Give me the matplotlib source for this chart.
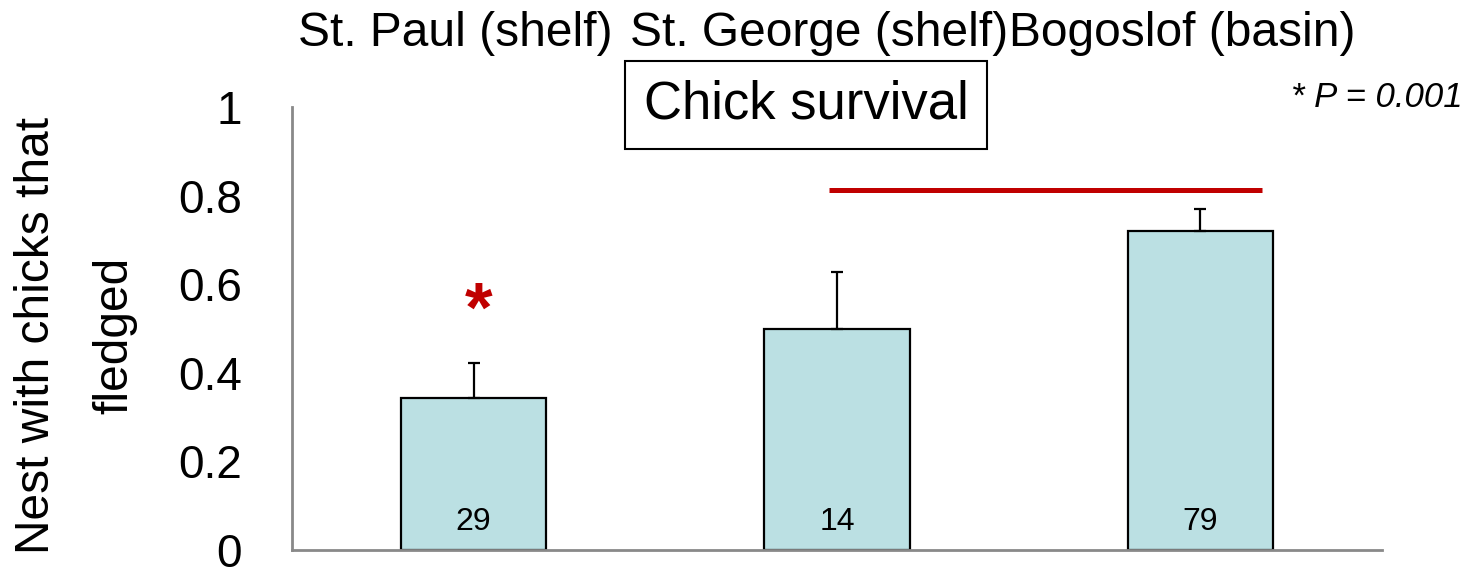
import numpy as np
import matplotlib
matplotlib.use('Agg')
import matplotlib.pyplot as plt
from matplotlib.transforms import blended_transform_factory

plt.rcParams['font.family'] = ['Liberation Sans', 'DejaVu Sans']

# Data
sites = ['St. Paul (shelf)', 'St. George (shelf)', 'Bogoslof (basin)']
fledged = [0.343, 0.499, 0.720]
err_upper = [0.079, 0.129, 0.050]
sample_n = ['29', '14', '79']
y_ticks = [0, 0.2, 0.4, 0.6, 0.8, 1]
y_tick_labels = ['0', '0.2', '0.4', '0.6', '0.8', '1']
sig_line_x = [0.977, 2.169]
sig_line_y = 0.813

bar_color = '#bbe0e3'
red = '#c00000'
spine_grey = '#898989'

fig = plt.figure(figsize=(14.79, 5.68), dpi=100)
ax = fig.add_axes([0.1974, 0.0317, 0.7370, 0.7799])

x = np.arange(len(sites))
ax.bar(x, fledged, width=0.4, color=bar_color, edgecolor='black', linewidth=1.6, zorder=2)
ax.errorbar(x, fledged, yerr=[np.zeros(len(x)), err_upper], fmt='none',
            ecolor='black', elinewidth=1.6, capsize=4.5, capthick=1.6, zorder=3)

for xi, n in zip(x, sample_n):
    ax.text(xi, 0.063, n, ha='center', va='center', fontsize=23)

ax.set_xlim(-0.5, 2.5)
ax.set_ylim(0, 1)
ax.set_xticks([])
ax.set_yticks(y_ticks)
ax.set_yticklabels(y_tick_labels, fontsize=33)
ax.tick_params(axis='y', length=0, pad=36)

for side in ['top', 'right']:
    ax.spines[side].set_visible(False)
for side in ['left', 'bottom']:
    ax.spines[side].set_color(spine_grey)
    ax.spines[side].set_linewidth(2)

ax.set_ylabel('Nest with chicks that\nfledged', fontsize=34.5, linespacing=1.95)
ax.yaxis.set_label_coords(-0.142, 0.485)

# site names above the plot
trans = blended_transform_factory(ax.transData, ax.transAxes)
for xi, name in zip(x, sites):
    ax.text(xi - 0.05, 1.167, name, transform=trans, ha='center', va='center', fontsize=34.5)

# significance marks
ax.plot(sig_line_x, [sig_line_y, sig_line_y], color=red, linewidth=3.6, solid_capstyle='butt')
ax.text(0.014, 0.533, '*', ha='center', va='center', color=red, fontsize=51, fontweight='bold')
fig.text(0.989, 0.829, '* P = 0.001', ha='right', va='center', fontsize=25, style='italic')

fig.text(0.545, 0.816, 'Chick survival', ha='center', va='center', fontsize=38,
         bbox=dict(boxstyle='square,pad=0.36', facecolor='white', edgecolor='black', linewidth=1.5))

fig.savefig('out.png', dpi=100, facecolor='white')
